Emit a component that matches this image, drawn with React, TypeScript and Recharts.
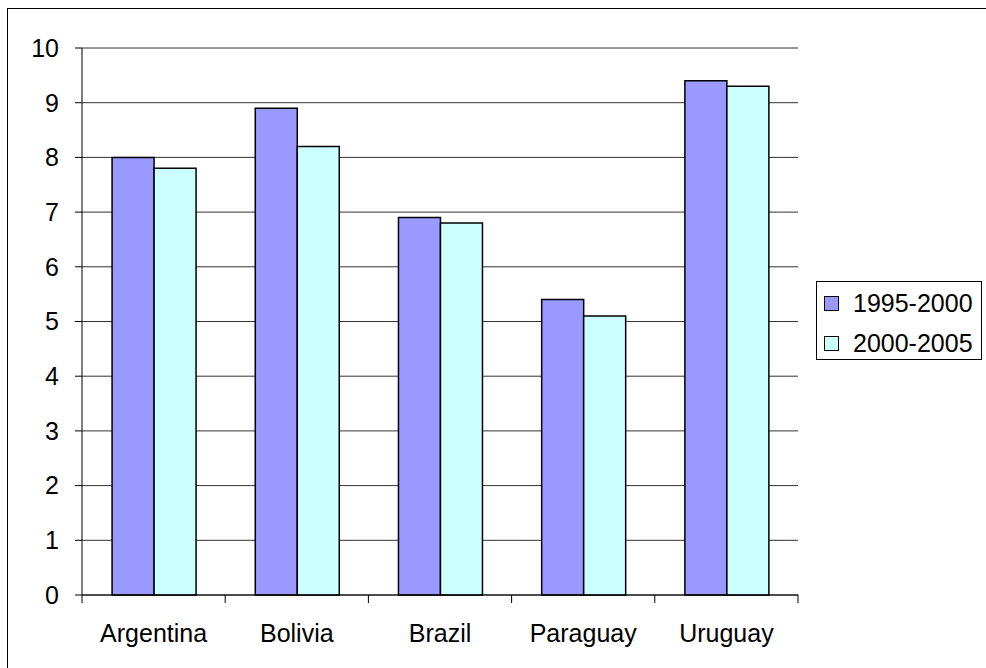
import React from "react";
import { BarChart, Bar, XAxis, YAxis, CartesianGrid } from "recharts";

// Life expectancy gain by country, two five-year periods
const countries = ["Argentina", "Bolivia", "Brazil", "Paraguay", "Uruguay"];
const period1995to2000 = [8.0, 8.9, 6.9, 5.4, 9.4];
const period2000to2005 = [7.8, 8.2, 6.8, 5.1, 9.3];

const seriesKeys = ["p1", "p2"];
const seriesNames = ["1995-2000", "2000-2005"];
const seriesColors = ["#9999FF", "#CCFFFF"];

const yTicks = [0, 1, 2, 3, 4, 5, 6, 7, 8, 9, 10];

const data = countries.map((country, i) => ({
  country,
  p1: period1995to2000[i],
  p2: period2000to2005[i],
}));

const FONT = "'Liberation Sans', Arial, sans-serif";
const FONT_SIZE = 25;
const X_TICK_MARGIN = 29;
const DIVIDER_LEN = 8;

// Category label plus the divider ticks that sit on the category boundaries
const CategoryTick = (props: any) => {
  const { x, y, payload, index, width } = props;
  const half =
    payload && payload.offset ? payload.offset : width ? width / countries.length / 2 : 0;
  const axisY = y - X_TICK_MARGIN;
  const isLast = index === countries.length - 1;
  return (
    <g>
      <line
        x1={x - half}
        x2={x - half}
        y1={axisY}
        y2={axisY + DIVIDER_LEN}
        stroke="#000"
      />
      {isLast && (
        <line
          x1={x + half}
          x2={x + half}
          y1={axisY}
          y2={axisY + DIVIDER_LEN}
          stroke="#000"
        />
      )}
      <text
        x={x}
        y={y}
        dy="0.71em"
        textAnchor="middle"
        fill="#000"
        fontSize={FONT_SIZE}
        fontFamily={FONT}
      >
        {payload.value}
      </text>
    </g>
  );
};

const Legend = () => (
  <div
    style={{
      position: "absolute",
      left: 816,
      top: 281,
      width: 164,
      height: 77,
      border: "1px solid #000",
      background: "#fff",
      fontFamily: FONT,
      fontSize: FONT_SIZE,
      color: "#000",
      boxSizing: "content-box",
    }}
  >
    {seriesNames.map((name, i) => (
      <div
        key={name}
        style={{
          position: "absolute",
          left: 7,
          top: 7 + i * 40,
          height: 28,
          display: "flex",
          alignItems: "center",
          whiteSpace: "nowrap",
        }}
      >
        <span
          style={{
            display: "inline-block",
            width: 13,
            height: 13,
            border: "1px solid #000",
            background: seriesColors[i],
            marginRight: 14,
          }}
        />
        <span>{name}</span>
      </div>
    ))}
  </div>
);

export default function App() {
  return (
    <div
      style={{
        position: "absolute",
        left: 0,
        top: 0,
        width: 986,
        height: 668,
        background: "#fff",
        overflow: "hidden",
      }}
    >
      <div
        style={{
          position: "absolute",
          left: 7,
          top: 8,
          right: -2,
          bottom: -2,
          borderTop: "1px solid #000",
          borderLeft: "1px solid #000",
        }}
      />
      <div style={{ position: "absolute", left: 0, top: 0 }}>
        <BarChart
          width={986}
          height={668}
          data={data}
          margin={{ top: 48, right: 188, bottom: 0, left: 0 }}
          barCategoryGap="21%"
          barGap={0}
        >
          <CartesianGrid vertical={false} stroke="#333" />
          <XAxis
            dataKey="country"
            height={73}
            interval={0}
            tickLine={false}
            axisLine={{ stroke: "#000" }}
            tickSize={0}
            tickMargin={X_TICK_MARGIN}
            tick={<CategoryTick />}
          />
          <YAxis
            domain={[0, 10]}
            ticks={yTicks}
            width={82}
            interval={0}
            axisLine={{ stroke: "#000" }}
            tickLine={{ stroke: "#000" }}
            tickSize={7}
            tickMargin={16}
            tick={{ fill: "#000", fontSize: FONT_SIZE, fontFamily: FONT }}
          />
          {seriesKeys.map((key, i) => (
            <Bar
              key={key}
              dataKey={key}
              name={seriesNames[i]}
              fill={seriesColors[i]}
              stroke="#000"
              strokeWidth={1.5}
              isAnimationActive={false}
            />
          ))}
        </BarChart>
      </div>
      <Legend />
    </div>
  );
}
